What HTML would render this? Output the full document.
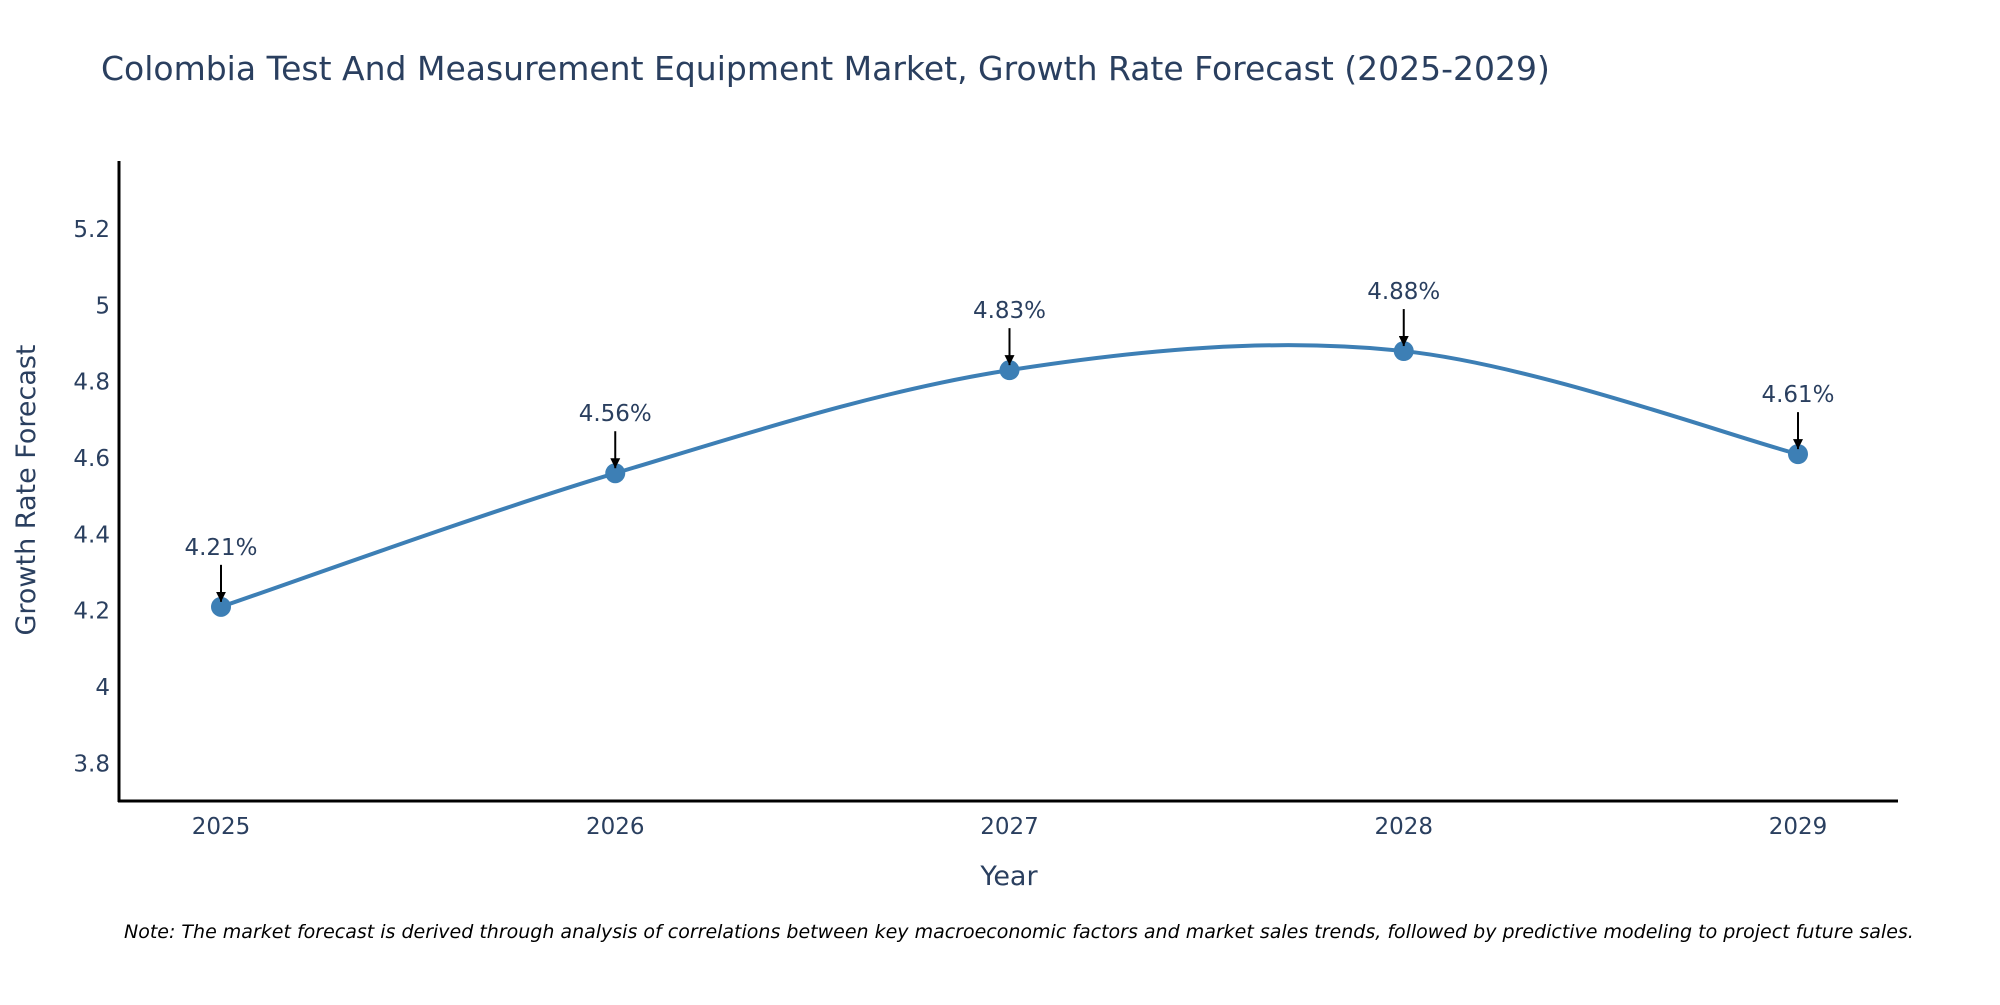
<!DOCTYPE html>
<html><head><meta charset="utf-8"><style>
body{margin:0;background:#fff;}
svg text{font-family:"DejaVu Sans","Liberation Sans",sans-serif;fill:#2a3f5f;}
</style></head><body>
<svg id="chart" width="2000" height="1000" xmlns="http://www.w3.org/2000/svg">
<defs><marker id="ah" viewBox="0 0 10 10" refX="10" refY="5" markerWidth="5" markerHeight="5" orient="auto"><path d="M0,0 L10,5 L0,10 z" fill="#000"/></marker></defs>
<text x="101" y="80" font-size="33">Colombia Test And Measurement Equipment Market, Growth Rate Forecast (2025-2029)</text>
<g id="yticks"></g><g id="xticks"></g>
<line x1="119" y1="161" x2="119" y2="802" stroke="#000" stroke-width="3"/>
<line x1="118" y1="801" x2="1898" y2="801" stroke="#000" stroke-width="3"/>
<path id="line" fill="none" stroke="#3d7fb5" stroke-width="4"/>
<g id="marks"></g>
<text x="0" y="0" transform="translate(35,490) rotate(-90)" text-anchor="middle" font-size="27">Growth Rate Forecast</text>
<text x="1009" y="885" text-anchor="middle" font-size="27">Year</text>
<text x="124" y="938" font-size="19" font-style="italic" style="fill:#000">Note: The market forecast is derived through analysis of correlations between key macroeconomic factors and market sales trends, followed by predictive modeling to project future sales.</text>
</svg>
<script>
const years=[2025,2026,2027,2028,2029];
const values=[4.21,4.56,4.83,4.88,4.61];
const labels=["4.21%","4.56%","4.83%","4.88%","4.61%"];
const yTicks=[3.8,4,4.2,4.4,4.6,4.8,5,5.2];
const yTickLabels=["3.8","4","4.2","4.4","4.6","4.8","5","5.2"];
const NS="http://www.w3.org/2000/svg";
const xs=v=>221+(v-2025)*394.25;
const ys=v=>687-(v-4)*381.75;
function mk(t,a,p){const e=document.createElementNS(NS,t);for(const k in a)e.setAttribute(k,a[k]);p.appendChild(e);return e;}
const yt=document.getElementById('yticks');
yTicks.forEach((v,i)=>{const t=mk('text',{x:110,y:ys(v)+8,'text-anchor':'end','font-size':23},yt);t.textContent=yTickLabels[i];

});
const xt=document.getElementById('xticks');
years.forEach(v=>{const t=mk('text',{x:xs(v),y:834,'text-anchor':'middle','font-size':23},xt);t.textContent=v;

});
const P=years.map((y,i)=>[xs(y),ys(values[i])]);
let d=`M${P[0][0]},${P[0][1]}`;const s=1/6;
for(let i=0;i<P.length-1;i++){const p0=P[Math.max(i-1,0)],p1=P[i],p2=P[i+1],p3=P[Math.min(i+2,P.length-1)];
d+=` C${p1[0]+(p2[0]-p0[0])*s},${p1[1]+(p2[1]-p0[1])*s} ${p2[0]-(p3[0]-p1[0])*s},${p2[1]-(p3[1]-p1[1])*s} ${p2[0]},${p2[1]}`;}
document.getElementById('line').setAttribute('d',d);
const m=document.getElementById('marks');
P.forEach((p,i)=>{const c=mk('circle',{cx:p[0],cy:p[1],r:10,fill:'#3d7fb5'},m);


const l=mk('line',{x1:p[0],y1:p[1]-42,x2:p[0],y2:p[1]-5,stroke:'#000','stroke-width':2,'marker-end':'url(#ah)'},m);


const t=mk('text',{x:p[0],y:p[1]-52,'text-anchor':'middle','font-size':23},m);t.textContent=labels[i];

});
</script>
</body></html>
